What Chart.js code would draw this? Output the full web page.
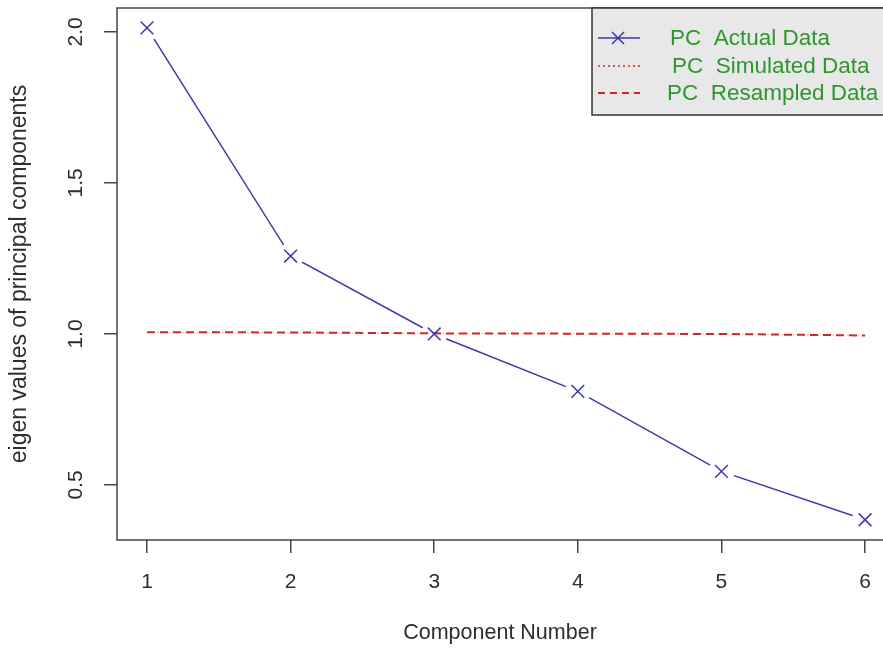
<!DOCTYPE html>
<html>
<head>
<meta charset="utf-8">
<script src="https://cdn.jsdelivr.net/npm/chart.js@4.4.1/dist/chart.umd.min.js"></script>
<style>
  html, body { margin: 0; padding: 0; background: #fff; overflow: hidden; }
  #scree { display: block; }
</style>
</head>
<body>
<canvas id="scree" width="883" height="652"></canvas>
<script>
// values
const components = [1, 2, 3, 4, 5, 6];
const actualData = [2.013, 1.258, 1.0, 0.81, 0.545, 0.385];
const simulatedData = [1.005, 1.004, 1.002, 1.001, 1.0, 0.995];
const resampledData = [1.006, 1.005, 1.002, 1.001, 1.0, 0.995];
const xTicks = [1, 2, 3, 4, 5, 6];
const yTicks = [0.5, 1.0, 1.5, 2.0];
const legendLabels = ['PC  Actual Data', 'PC  Simulated Data', 'PC  Resampled Data'];

const blue = '#3a3aae';
const red = '#d02828';
const green = '#2f962f';
const textGrey = '#2e2e2e';
const axisGrey = '#444';
const fontFam = '"Liberation Sans", Arial, sans-serif';

const pts = arr => components.map((c, i) => ({x: c, y: arr[i]}));

// box (open on the right, cut by the page edge), rotated y tick labels, legend
const rBox = {
  id: 'rBox',
  afterDraw(chart) {
    const {ctx, chartArea: a} = chart;
    const ys = chart.scales.y;
    ctx.save();
    ctx.strokeStyle = axisGrey;
    ctx.lineWidth = 1.5;
    ctx.beginPath();
    ctx.moveTo(chart.width, a.top);
    ctx.lineTo(a.left, a.top);
    ctx.lineTo(a.left, a.bottom);
    ctx.lineTo(chart.width, a.bottom);
    ctx.stroke();

    // y tick labels, R style (rotated)
    ctx.fillStyle = textGrey;
    ctx.font = '21px ' + fontFam;
    ctx.textAlign = 'center';
    ctx.textBaseline = 'alphabetic';
    yTicks.forEach(v => {
      ctx.save();
      ctx.translate(82, ys.getPixelForValue(v));
      ctx.rotate(-Math.PI / 2);
      ctx.fillText(v.toFixed(1), 0, 0);
      ctx.restore();
    });

    // legend
    const lx = 592, ly = a.top, lw = 320, lh = 107;
    ctx.fillStyle = '#e8e8e8';
    ctx.fillRect(lx, ly, lw, lh);
    ctx.strokeStyle = '#333';
    ctx.lineWidth = 1.5;
    ctx.strokeRect(lx, ly, lw, lh);

    const rows = [a.top + 30, a.top + 58, a.top + 85];
    ctx.font = '22.5px ' + fontFam;
    ctx.textAlign = 'left';
    ctx.textBaseline = 'middle';
    rows.forEach((ry, i) => {
      ctx.beginPath();
      ctx.lineWidth = 1.5;
      if (i === 0) { ctx.strokeStyle = blue; ctx.setLineDash([]); }
      if (i === 1) { ctx.strokeStyle = red; ctx.setLineDash([2, 3]); }
      if (i === 2) { ctx.strokeStyle = red; ctx.lineWidth = 2; ctx.setLineDash([7, 5]); }
      ctx.moveTo(598, ry); ctx.lineTo(640, ry);
      ctx.stroke();
      ctx.setLineDash([]);
      if (i === 0) {
        ctx.beginPath();
        ctx.moveTo(612, ry - 6); ctx.lineTo(624, ry + 6);
        ctx.moveTo(612, ry + 6); ctx.lineTo(624, ry - 6);
        ctx.stroke();
      }
      ctx.fillStyle = green;
      ctx.fillText(legendLabels[i], [670, 672, 667][i], ry + 1);
    });
    ctx.restore();
  }
};

new Chart(document.getElementById('scree'), {
  type: 'line',
  data: {
    datasets: [
      { label: 'PC Actual Data line', data: pts(actualData), borderColor: blue, borderWidth: 1.5,
        pointRadius: 0, order: 4 },
      { label: 'gap', data: pts(actualData), showLine: false, pointRadius: 13,
        pointBackgroundColor: '#fff', pointBorderWidth: 0, pointBorderColor: '#fff', order: 3 },
      { label: 'PC Simulated Data', data: pts(simulatedData), borderColor: 'rgba(208,40,40,0.35)',
        borderWidth: 1, borderDash: [2, 3], pointRadius: 0, order: 2 },
      { label: 'PC Resampled Data', data: pts(resampledData), borderColor: red, borderWidth: 2,
        borderDash: [8, 5], pointRadius: 0, order: 2 },
      { label: 'PC Actual Data', data: pts(actualData), showLine: false, pointStyle: 'crossRot',
        pointRadius: 9, pointBorderColor: blue, pointBorderWidth: 1.5, order: 1 }
    ]
  },
  options: {
    responsive: false,
    animation: false,
    layout: { autoPadding: false, padding: { top: 8, right: 0, left: 0, bottom: 0 } },
    plugins: { legend: { display: false }, tooltip: { enabled: false } },
    scales: {
      x: {
        type: 'linear', min: 0.791, max: 6.125,
        afterBuildTicks: s => { s.ticks = xTicks.map(v => ({value: v})); },
        afterFit: s => { s.height = 112; s.paddingLeft = 0; s.paddingRight = 0; },
        grid: { drawOnChartArea: false, drawTicks: true, tickLength: 13, color: axisGrey, lineWidth: 1.5 },
        border: { display: false },
        ticks: { color: textGrey, padding: 17, font: { family: fontFam, size: 21 },
                 callback: v => String(v) },
        title: { display: true, text: 'Component Number', color: textGrey, padding: { top: 0, bottom: 6 },
                 font: { family: fontFam, size: 21.5 } }
      },
      y: {
        type: 'linear', min: 0.318, max: 2.079,
        afterBuildTicks: s => { s.ticks = yTicks.map(v => ({value: v})); },
        afterFit: s => { s.width = 117; },
        grid: { drawOnChartArea: false, drawTicks: true, tickLength: 13, color: axisGrey, lineWidth: 1.5 },
        border: { display: false },
        ticks: { display: false },
        title: { display: true, text: 'eigen values of principal components', color: textGrey,
                 padding: { top: 6, bottom: 0 }, font: { family: fontFam, size: 23 } }
      }
    }
  },
  plugins: [rBox]
});
</script>
</body>
</html>
